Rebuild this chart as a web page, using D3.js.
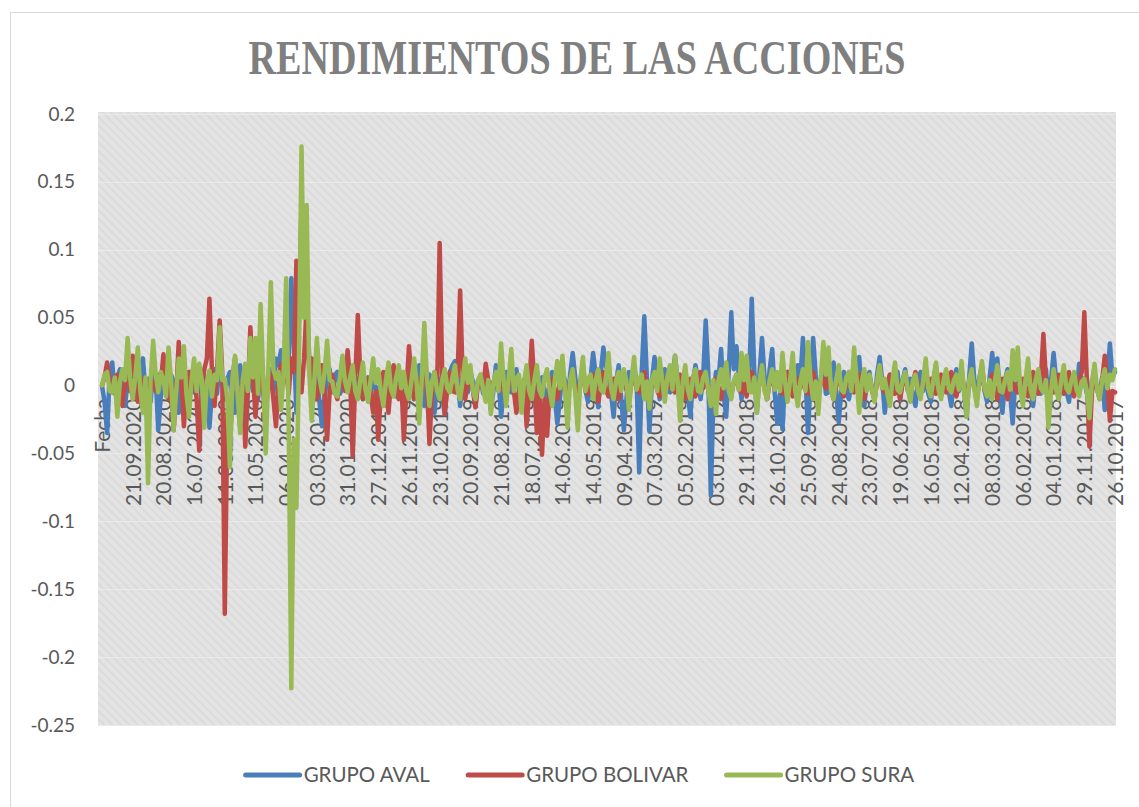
<!DOCTYPE html>
<html>
<head>
<meta charset="utf-8">
<script src="https://cdn.jsdelivr.net/npm/d3@7"></script>
<style>
  body { margin: 0; background: #fff; }
  text { font-family: Lato, "Open Sans", "Liberation Sans", sans-serif; fill: #595959; }
</style>
</head>
<body>
<div id="chart"></div>
<script>
// chart defaults
const width = 1139
const height = 807
const plot = { left: 98, right: 1116, top: 112, bottom: 726 }
const title = "RENDIMIENTOS DE LAS ACCIONES"

// category labels shown on the axis (one every ~22 trading days)
const dateLabels = ["Fecha", "21.09.2020", "20.08.2020", "16.07.2020", "11.06.2020", "11.05.2020",
  "06.04.2020", "03.03.2020", "31.01.2020", "27.12.2019", "26.11.2019", "23.10.2019", "20.09.2019",
  "21.08.2019", "18.07.2019", "14.06.2019", "14.05.2019", "09.04.2019", "07.03.2019", "05.02.2019",
  "03.01.2019", "29.11.2018", "26.10.2018", "25.09.2018", "24.08.2018", "23.07.2018", "19.06.2018",
  "16.05.2018", "12.04.2018", "08.03.2018", "06.02.2018", "04.01.2018", "29.11.2017", "26.10.2017"]
const pointsPerLabel = 12

const yTicks = [0.2, 0.15, 0.1, 0.05, 0, -0.05, -0.1, -0.15, -0.2, -0.25]
const yTickLabels = ["0.2", "0.15", "0.1", "0.05", "0", "-0.05", "-0.1", "-0.15", "-0.2", "-0.25"]

// returns, 12 samples per label interval (one row per interval)
const grupoAval = [
  0, -0.012, -0.035, 0.008, 0.017, -0.006, 0.005, 0.012, -0.008, -0.015, 0.003, 0.009,
  0.015, 0.004, -0.01, 0.012, 0.02, -0.004, 0.005, -0.012, 0.01, 0.006, -0.033, -0.008,
  0.01, 0.016, -0.005, 0.008, 0.003, -0.01, -0.02, 0.004, 0.006, -0.008, 0.01, 0.002,
  -0.005, 0.012, 0.008, -0.014, -0.01, 0.006, -0.031, -0.004, 0.012, -0.006, 0.02, 0.004,
  -0.01, 0.005, 0.01, -0.008, -0.02, 0.006, 0.015, -0.01, -0.005, 0.012, 0.01, -0.004,
  0.005, -0.01, 0.01, 0.003, -0.01, 0.008, 0.012, -0.006, 0.02, 0.015, 0.026, 0.018,
  0.028, 0.02, 0.079, 0.03, -0.02, 0.05, 0.134, 0.09, 0.068, 0.02, -0.005, 0.012,
  0.01, -0.012, -0.03, -0.008, 0.005, 0.012, -0.005, 0.008, 0.01, -0.006, -0.002, 0.007,
  0.003, 0.01, -0.008, 0.002, 0.005, -0.004, -0.01, 0.003, 0.006, -0.006, 0.004, -0.002,
  -0.005, 0.003, 0.008, -0.004, -0.012, 0.002, 0.006, -0.008, 0.012, 0.004, -0.02, -0.006,
  0.012, 0.002, -0.01, 0.006, 0.015, -0.004, -0.015, 0.003, 0.008, -0.008, -0.02, 0.004,
  0.005, -0.008, -0.021, 0.004, 0.01, 0.015, 0.018, 0.004, -0.015, 0.006, 0.015, -0.005,
  0.01, 0.003, -0.015, 0.004, 0.005, -0.006, 0.012, 0.002, -0.018, -0.004, 0.015, 0.005,
  -0.023, -0.006, 0.01, -0.004, -0.005, 0.006, 0.012, -0.003, -0.01, 0.004, 0.008, -0.006,
  0.005, 0.012, -0.01, 0.004, 0.006, -0.005, -0.012, 0.003, 0.01, -0.008, -0.028, -0.01,
  0.01, 0.004, -0.015, 0.008, 0.024, 0.006, -0.01, 0.003, 0.015, -0.004, -0.012, 0.006,
  0.024, 0.008, -0.016, 0.01, 0.028, 0.014, 0.01, -0.006, -0.023, 0.003, 0.015, -0.01,
  -0.033, -0.01, 0.01, 0.004, 0.015, 0.002, -0.064, 0.01, 0.051, 0.006, -0.034, 0.004,
  0.021, 0.006, -0.01, 0.004, 0.012, -0.004, -0.005, 0.008, 0.022, 0.004, -0.015, -0.004,
  0.01, -0.006, -0.023, 0.003, 0.015, 0.004, -0.01, 0.006, 0.048, 0.01, -0.081, -0.01,
  0.01, 0.004, 0.027, -0.006, -0.023, 0.01, 0.054, 0.012, 0.029, 0.006, -0.01, 0.004,
  0.015, 0.006, 0.064, 0.01, -0.02, 0.008, 0.035, 0.006, -0.01, 0.012, 0.027, -0.006,
  -0.028, -0.006, -0.032, 0.004, 0.01, -0.006, -0.005, 0.006, 0.015, 0.004, 0.035, 0.006,
  -0.035, 0.004, 0.035, 0.008, -0.01, 0.004, 0.012, -0.006, -0.005, 0.006, 0.017, -0.004,
  -0.027, -0.004, 0.01, -0.006, -0.01, 0.004, 0.005, 0.012, 0.021, -0.004, -0.015, 0.004,
  0.01, -0.004, -0.01, 0.008, 0.021, 0.004, -0.02, -0.004, 0.008, -0.006, 0.005, 0.01,
  -0.01, 0.004, 0.012, -0.004, 0.005, -0.008, -0.015, 0.004, 0.01, -0.004, 0.008, -0.006,
  -0.012, 0.004, 0.015, -0.003, -0.008, 0.006, 0.01, -0.004, -0.015, 0.004, 0.012, -0.004,
  0.01, -0.004, -0.023, 0.006, 0.031, 0.004, -0.01, 0.006, 0.015, -0.004, -0.012, 0.006,
  0.024, 0.006, 0.02, -0.006, -0.02, 0.004, 0.012, -0.006, -0.028, 0.004, 0.015, -0.004,
  -0.01, 0.004, 0.012, -0.004, -0.015, 0.003, 0.008, -0.006, 0.005, 0.012, -0.01, 0.004,
  0.024, 0.004, -0.01, 0.006, 0.01, -0.004, -0.012, 0.003, 0.008, -0.004, 0.016, 0.004,
  0.005, -0.006, -0.01, 0.004, 0.008, -0.004, -0.005, 0.006, -0.018, 0.004, 0.031, 0.006,
  0.01]

const grupoBolivar = [
  0, 0.006, 0.017, 0.004, -0.005, 0.006, 0.008, -0.004, -0.015, 0.002, 0.01, -0.004,
  0.022, 0.004, -0.012, -0.002, 0.005, -0.006, -0.01, 0.004, 0.003, -0.004, 0.008, 0.002,
  0.023, 0.006, -0.01, 0.004, -0.033, -0.006, 0.032, 0.008, -0.03, -0.004, 0.01, 0.002,
  0.008, -0.01, -0.048, -0.004, 0.012, 0.02, 0.064, 0.01, -0.015, 0.012, 0.048, 0.01,
  -0.168, -0.02, -0.05, 0.006, 0.02, -0.006, -0.03, 0.004, -0.045, -0.006, 0.043, 0.008,
  -0.023, 0.002, 0.01, -0.006, -0.02, 0.004, 0.008, -0.01, -0.03, 0.004, 0.016, 0.004,
  0.01, -0.006, 0.02, 0.01, 0.092, 0.01, -0.005, 0.02, 0.06, 0.01, 0.02, -0.004,
  -0.01, 0.004, 0.015, -0.006, -0.04, -0.004, 0.008, -0.004, -0.01, 0.004, 0.005, -0.004,
  0.026, 0.004, -0.052, 0.004, 0.052, 0.006, -0.01, 0.003, 0.005, -0.006, -0.02, -0.004,
  -0.04, -0.004, 0.01, -0.004, -0.02, 0.004, 0.015, -0.002, -0.01, 0.004, -0.04, -0.004,
  0.029, 0.004, -0.01, 0.003, 0.005, -0.004, 0.027, 0.004, -0.043, -0.004, 0.01, -0.003,
  0.105, 0.008, -0.021, -0.002, 0.01, -0.004, -0.005, 0.006, 0.07, 0.006, -0.01, 0.003,
  0.005, -0.004, -0.016, 0.002, 0.008, -0.003, 0.016, 0.004, -0.01, 0.003, 0.005, -0.004,
  0.008, -0.003, -0.01, 0.004, 0.005, -0.004, -0.02, -0.004, -0.006, 0.004, -0.03, -0.004,
  0.033, 0.002, -0.035, -0.006, -0.051, -0.01, -0.037, -0.004, 0.005, -0.004, -0.01, 0.003,
  0.005, -0.003, -0.008, 0.003, 0.01, -0.002, -0.005, 0.003, 0.008, -0.003, -0.006, 0.002,
  0.008, -0.002, -0.012, 0.003, 0.01, -0.003, -0.008, 0.002, 0.005, -0.003, -0.01, 0.002,
  0.005, -0.003, -0.01, 0.002, 0.008, -0.002, -0.005, 0.003, 0.01, -0.002, -0.008, 0.002,
  0.006, -0.003, -0.008, 0.002, 0.005, -0.002, 0.01, -0.003, -0.005, 0.003, 0.008, -0.002,
  -0.01, 0.002, 0.005, -0.003, -0.008, 0.002, 0.01, -0.002, 0.006, -0.003, -0.012, 0.002,
  0.005, -0.002, -0.01, 0.003, 0.012, -0.002, -0.006, 0.002, 0.008, -0.003, -0.005, 0.002,
  -0.008, 0.002, 0.01, -0.002, -0.005, 0.003, 0.006, -0.002, -0.01, 0.002, 0.005, -0.002,
  0.008, -0.002, -0.006, 0.003, 0.01, -0.002, -0.008, 0.002, 0.005, -0.002, 0.01, -0.003,
  -0.006, 0.002, 0.01, -0.002, -0.008, 0.003, 0.005, -0.002, 0.008, -0.003, -0.01, 0.002,
  0.005, -0.002, -0.008, 0.002, 0.01, -0.003, -0.005, 0.002, 0.008, -0.002, -0.01, 0.002,
  0.006, -0.002, -0.01, 0.003, 0.012, -0.002, -0.005, 0.002, 0.008, -0.003, -0.006, 0.002,
  -0.01, 0.002, 0.005, -0.002, -0.008, 0.003, 0.01, -0.002, -0.005, 0.002, 0.006, -0.002,
  0.005, -0.002, -0.006, 0.003, 0.008, -0.002, -0.005, 0.002, 0.01, -0.003, -0.008, 0.002,
  0.01, -0.002, -0.01, 0.003, 0.005, -0.002, -0.008, 0.002, 0.012, -0.003, -0.005, 0.002,
  0.008, -0.002, -0.01, 0.003, 0.005, -0.002, -0.01, 0.002, 0.01, -0.003, -0.005, 0.002,
  0.005, -0.002, -0.008, 0.003, 0.01, -0.002, -0.006, 0.004, 0.038, 0.004, -0.01, 0.002,
  -0.005, 0.002, 0.008, -0.002, -0.006, 0.003, 0.01, -0.002, -0.008, 0.002, 0.005, 0.01,
  0.054, 0.004, -0.045, -0.004, 0.005, -0.002, -0.01, 0.004, 0.022, 0.004, -0.026, -0.004,
  -0.005]

const grupoSura = [
  0, 0.008, 0.01, -0.004, -0.005, 0.006, -0.023, 0.003, 0.012, 0.004, 0.035, 0.006,
  -0.01, 0.006, 0.028, -0.004, -0.02, 0.006, -0.072, 0.004, 0.033, 0.008, -0.005, 0.01,
  0.004, -0.008, 0.028, 0.004, -0.033, -0.004, 0.02, 0.006, 0.029, -0.006, -0.023, 0.004,
  0.02, -0.004, 0.016, 0.004, -0.031, 0.003, 0.011, -0.008, 0.008, 0.004, 0.043, 0.004,
  0.005, -0.01, -0.06, 0.006, 0.022, -0.006, -0.035, 0.004, 0.016, -0.004, 0.035, 0.006,
  0.035, -0.006, 0.06, 0.008, -0.05, 0.01, 0.076, 0.012, 0.005, 0.01, -0.018, 0.01,
  0.079, -0.03, -0.223, -0.04, -0.09, 0.02, 0.176, 0.05, 0.133, 0.01, -0.026, 0.004,
  0.035, 0.006, -0.005, 0.01, 0.033, 0.004, 0.003, -0.006, -0.008, 0.006, 0.022, 0.003,
  -0.005, 0.006, 0.015, -0.004, -0.01, 0.004, 0.017, -0.003, -0.012, 0.004, 0.02, 0.002,
  0.012, -0.004, -0.015, 0.004, 0.017, -0.003, -0.008, 0.006, 0.015, -0.002, 0.01, -0.004,
  -0.01, 0.004, 0.02, 0.002, -0.028, 0.004, 0.046, 0.006, -0.015, 0.003, 0.01, -0.004,
  -0.01, 0.004, 0.012, -0.002, -0.005, 0.006, 0.015, -0.003, -0.01, 0.004, 0.02, 0.002,
  0.015, -0.004, -0.01, 0.004, 0.008, -0.003, -0.012, 0.004, -0.021, 0.002, 0.01, -0.004,
  0.031, 0.004, -0.015, 0.006, 0.027, -0.004, 0.005, 0.008, -0.02, 0.003, 0.015, -0.004,
  -0.01, 0.004, 0.015, -0.003, -0.008, 0.006, 0.012, -0.004, -0.015, 0.004, 0.018, -0.002,
  0.022, -0.004, -0.031, 0.004, 0.012, -0.006, -0.033, 0.004, 0.021, -0.004, 0.005, 0.008,
  -0.01, 0.004, 0.012, -0.003, -0.005, 0.006, 0.024, -0.002, -0.01, 0.004, 0.01, -0.004,
  0.012, 0.003, -0.018, 0.004, 0.021, -0.003, 0.005, 0.008, -0.01, 0.003, -0.017, 0.004,
  0.01, -0.004, 0.02, 0.004, -0.012, 0.006, 0.015, -0.003, 0.022, 0.004, -0.026, 0.002,
  0.015, -0.003, -0.01, 0.006, 0.012, -0.004, -0.005, 0.006, 0.01, -0.003, -0.015, 0.004,
  -0.021, 0.004, 0.012, -0.002, 0.017, -0.004, -0.01, 0.004, 0.008, -0.003, 0.024, 0.004,
  0.022, -0.004, -0.005, 0.006, -0.02, 0.003, 0.015, -0.004, -0.01, 0.004, 0.012, -0.003,
  0.01, -0.004, 0.024, 0.003, -0.012, 0.004, 0.024, -0.004, -0.015, 0.003, 0.012, -0.004,
  0.032, 0.004, -0.01, 0.003, -0.021, 0.006, 0.032, 0.008, 0.028, -0.004, -0.01, 0.004,
  0.015, -0.003, -0.005, 0.006, 0.01, -0.004, 0.028, 0.004, -0.02, 0.003, 0.012, -0.004,
  0.008, -0.003, -0.012, 0.004, 0.015, -0.002, 0.005, -0.006, -0.015, 0.004, 0.017, -0.003,
  -0.005, 0.004, 0.01, -0.003, -0.012, 0.004, 0.008, -0.004, -0.01, 0.003, 0.02, -0.002,
  -0.008, 0.004, 0.017, -0.003, -0.01, 0.004, 0.012, -0.002, -0.005, 0.004, 0.008, -0.003,
  0.018, -0.004, -0.023, 0.004, 0.012, -0.003, -0.015, 0.004, 0.018, -0.002, -0.008, 0.004,
  -0.01, 0.003, 0.015, -0.004, -0.005, 0.004, 0.01, -0.003, 0.026, 0.004, 0.028, -0.004,
  -0.015, 0.004, 0.02, -0.003, -0.01, 0.004, 0.012, -0.002, -0.005, 0.004, -0.031, -0.004,
  0.012, -0.003, -0.01, 0.004, 0.015, -0.002, -0.005, 0.004, 0.01, -0.003, -0.008, 0.003,
  0.005, -0.004, -0.024, 0.003, 0.016, -0.003, -0.01, 0.004, 0.012, -0.002, 0.008, 0.004,
  0.012]

const seriesNames = ["GRUPO AVAL", "GRUPO BOLIVAR", "GRUPO SURA"]
const seriesColors = ["#4a7ebb", "#be4b48", "#98b954"]
const seriesValues = [grupoAval, grupoBolivar, grupoSura]

const svg = d3.select('#chart')
  .append('svg')
  .attr('width', width)
  .attr('height', height)

// hatched plot background
const defs = svg.append('defs')
const hatch = defs.append('pattern')
  .attr('id', 'hatch')
  .attr('patternUnits', 'userSpaceOnUse')
  .attr('width', 6)
  .attr('height', 6)
  .attr('patternTransform', 'rotate(45)')
hatch.append('rect').attr('width', 6).attr('height', 6).attr('fill', '#e3e3e3')
hatch.append('rect').attr('width', 6).attr('height', 2).attr('fill', '#dbdbdb')

// chart border
svg.append('rect')
  .attr('x', 10.5).attr('y', 12.5)
  .attr('width', 1140).attr('height', 800)
  .attr('fill', 'none')
  .attr('stroke', '#d9d9d9')

svg.append('text')
  .attr('x', 577)
  .attr('y', 74)
  .attr('text-anchor', 'middle')
  .attr('textLength', 657)
  .attr('lengthAdjust', 'spacingAndGlyphs')
  .style('font-family', '"Liberation Serif", "DejaVu Serif", serif')
  .style('font-weight', 'bold')
  .style('font-size', '48px')
  .style('fill', '#7f7f7f')
  .text(title)

svg.append('rect')
  .attr('x', plot.left).attr('y', plot.top)
  .attr('width', plot.right - plot.left).attr('height', plot.bottom - plot.top)
  .attr('fill', 'url(#hatch)')

const yScale = d3.scaleLinear()
  .domain([-0.25, 0.2])
  .range([725, 114])

const xScale = d3.scaleLinear()
  .domain([0, dateLabels.length - 1])
  .range([102, 1115])

// faint gridlines
svg.append('g')
  .selectAll('line')
  .data(yTicks)
  .enter()
  .append('line')
  .attr('x1', plot.left).attr('x2', plot.right)
  .attr('y1', d => Math.round(yScale(d)) + 0.5)
  .attr('y2', d => Math.round(yScale(d)) + 0.5)
  .attr('stroke', '#ebebeb')

// y axis labels
const yAxis = d3.axisLeft(yScale)
  .tickValues(yTicks)
  .tickFormat((d, i) => yTickLabels[i])
  .tickSize(0)
  .tickPadding(0)

svg.append('g')
  .attr('id', 'y-axis')
  .attr('transform', 'translate(75, 0)')
  .call(yAxis)
  .call(g => g.select('.domain').remove())
  .selectAll('text')
  .style('font-size', '19px')
  .style('font-family', 'Lato, "Open Sans", sans-serif')
  .style('fill', '#595959')

// category axis crosses at zero
const xAxis = d3.axisBottom(xScale)
  .tickValues(d3.range(dateLabels.length))
  .tickFormat((d, i) => dateLabels[i])
  .tickSize(0)

svg.append('g')
  .attr('id', 'x-axis')
  .attr('transform', 'translate(0, ' + yScale(0) + ')')
  .call(xAxis)
  .call(g => g.select('.domain').remove())
  .selectAll('text')
  .attr('transform', 'rotate(-90)')
  .attr('text-anchor', 'end')
  .attr('x', -13)
  .attr('y', 0)
  .attr('dy', '0.35em')
  .style('font-size', '21px')
  .style('font-family', 'Lato, "Open Sans", sans-serif')
  .style('fill', '#595959')

// the three return series
const line = d3.line()
  .x((d, i) => xScale(i / pointsPerLabel))
  .y(d => yScale(d))

svg.append('g')
  .selectAll('path')
  .data(seriesValues)
  .enter()
  .append('path')
  .attr('d', d => line(d))
  .attr('fill', 'none')
  .attr('stroke', (d, i) => seriesColors[i])
  .attr('stroke-width', 4.5)
  .attr('stroke-linejoin', 'round')
  .attr('stroke-linecap', 'round')

// legend
const legend = svg.append('g').attr('id', 'legend')
let lx = 0
const items = legend.selectAll('g')
  .data(seriesNames)
  .enter()
  .append('g')
items.append('line')
  .attr('x1', 0).attr('x2', 54)
  .attr('y1', 0).attr('y2', 0)
  .attr('stroke', (d, i) => seriesColors[i])
  .attr('stroke-width', 5)
  .attr('stroke-linecap', 'round')
items.append('text')
  .attr('x', 58)
  .attr('dy', '0.35em')
  .style('font-size', '20.5px')
  .text(d => d)
items.each(function () {
  const w = this.getBBox().width
  d3.select(this).attr('transform', 'translate(' + lx + ', 0)')
  lx += w + 38
})
const legendWidth = lx - 38
legend.attr('transform', 'translate(' + (580 - legendWidth / 2) + ', 775)')
</script>
</body>
</html>
